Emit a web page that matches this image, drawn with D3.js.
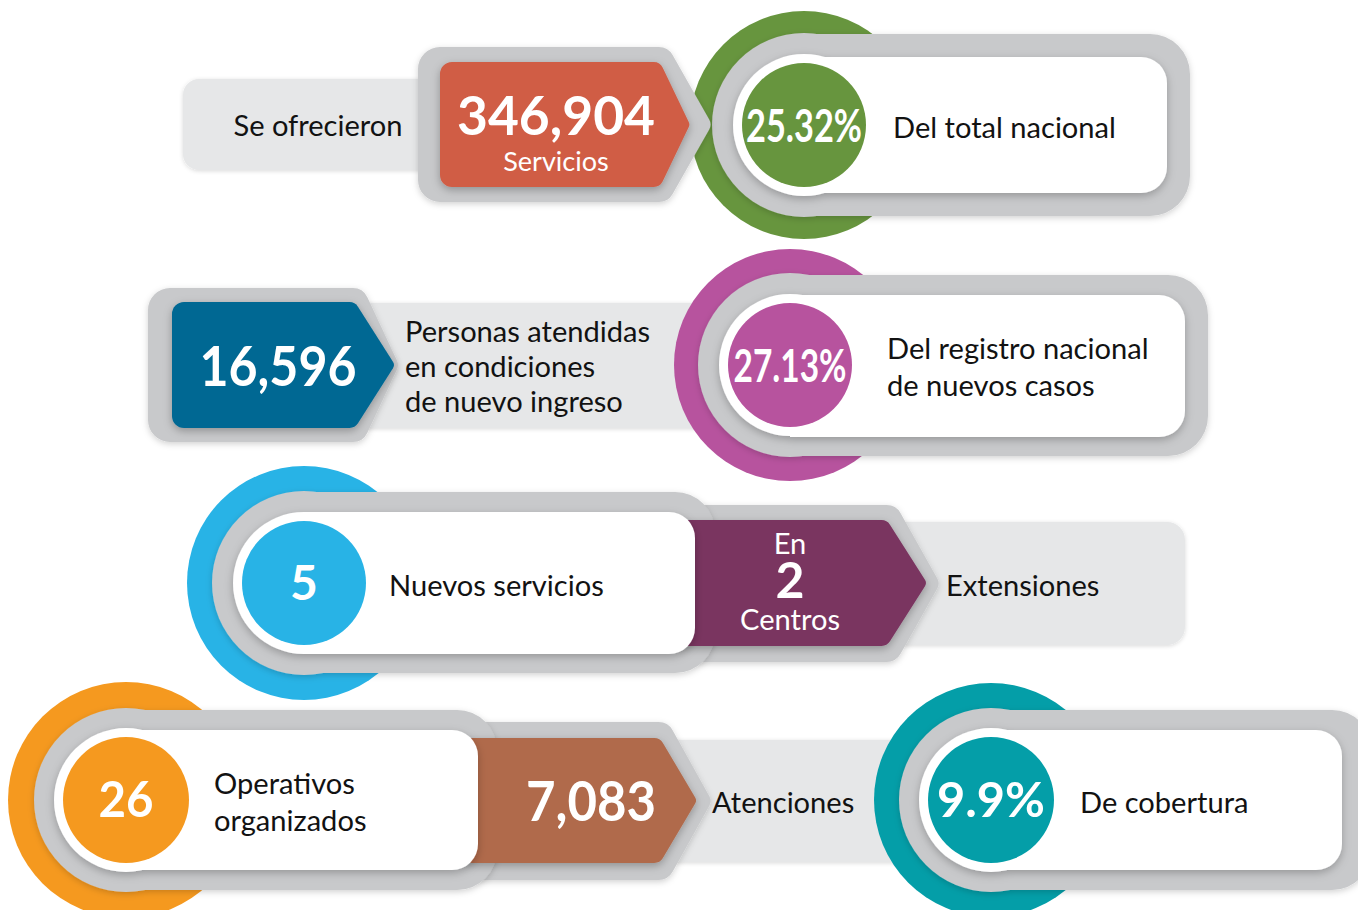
<!DOCTYPE html>
<html><head><meta charset="utf-8">
<script src="https://cdn.jsdelivr.net/npm/d3@7"></script>
<style>
html,body{margin:0;padding:0;background:#fff;}
svg{display:block;}
</style></head>
<body>
<svg id="chart" width="1358" height="910"></svg>
<script>
// ---------------- data ----------------
const pillLabels = [["Se ofrecieron"], ["Personas atendidas", "en condiciones", "de nuevo ingreso"], ["Extensiones"], ["Atenciones"]];
const badgeValues = ["346,904", "16,596", "2", "7,083"];
const badgeAbove = ["", "", "En", ""];
const badgeBelow = ["Servicios", "", "Centros", ""];
const ringValues = ["25.32%", "27.13%", "5", "26", "9.9%"];
const ringLabels = [["Del total nacional"], ["Del registro nacional", "de nuevos casos"], ["Nuevos servicios"], ["Operativos", "organizados"], ["De cobertura"]];

// ---------------- styles ----------------
const badgeColors = ["#d05d45", "#066893", "#7a3560", "#b06b4c"];
const ringColors = ["#67953e", "#b7539e", "#28b3e6", "#f5991f", "#049ea8"];
const frameColor = "#c8c9cb", pillColor = "#e6e7e8", textColor = "#121212";
const FONT = "Lato, 'Open Sans', sans-serif";

// ---------------- layout ----------------
const pillLayout = [
  {x0: 183, x1: 470, y0: 79, y1: 170, r: 16, tx: 318, anchor: "middle", ty: [136]},
  {x0: 350, x1: 720, y0: 303, y1: 428, r: 16, tx: 405, anchor: "start", ty: [342, 377, 412]},
  {x0: 870, x1: 1185, y0: 522, y1: 645, r: 18, tx: 946, anchor: "start", ty: [596]},
  {x0: 640, x1: 920, y0: 740, y1: 862, r: 16, tx: 712, anchor: "start", ty: [813]}
];
const badgeLayout = [
  {x0: 440, xd: 660, tip: 690, y0: 62, y1: 187, f: {x0: 418, xd: 668, tip: 712, y0: 47, y1: 202}, tx: 556, vy: 135, vs: 53, vw: 198, ay: 0, by: 171, ss: 0.93},
  {x0: 172, xd: 355, tip: 395, y0: 302, y1: 428, f: {x0: 148, xd: 363, tip: 399, y0: 288, y1: 442}, tx: 278, vy: 386, vs: 56, vw: 157, ay: 0, by: 0, ss: 1},
  {x0: 670, xd: 887, tip: 927, y0: 520, y1: 646, f: {x0: 660, xd: 896, tip: 940, y0: 505, y1: 662}, tx: 790, vy: 598, vs: 50, vw: 0, ay: 554, by: 630, ss: 1},
  {x0: 460, xd: 660, tip: 697, y0: 738, y1: 863, f: {x0: 445, xd: 668, tip: 712, y0: 722, y1: 880}, tx: 591, vy: 821, vs: 56, vw: 130, ay: 0, by: 0, ss: 1}
];
const ringLayout = [
  {cx: 804, cy: 125, R: 114, fr: 92, wr: 71, ir: 62, fx1: 1190, fy0: 34, fy1: 216, wx1: 1167, wy0: 57, wy1: 193, lx: 893, vs: 46, vw: 116},
  {cx: 790, cy: 365, R: 116, fr: 92, wr: 71, ir: 62, fx1: 1208, fy0: 275, fy1: 456, wx1: 1185, wy0: 295, wy1: 437, lx: 887, vs: 46, vw: 113},
  {cx: 304, cy: 583, R: 117, fr: 92, wr: 71, ir: 62, fx1: 715, fy0: 492, fy1: 673, wx1: 695, wy0: 512, wy1: 654, lx: 389, vs: 48, vw: 0},
  {cx: 126, cy: 800, R: 118, fr: 92, wr: 72, ir: 63, fx1: 497, fy0: 710, fy1: 890, wx1: 478, wy0: 730, wy1: 870, lx: 214, vs: 50, vw: 55},
  {cx: 991, cy: 800, R: 117, fr: 92, wr: 72, ir: 63, fx1: 1372, fy0: 710, fy1: 890, wx1: 1342, wy0: 730, wy1: 870, lx: 1080, vs: 48, vw: 108}
];

// ---------------- helpers ----------------
function roundedPoly(pts, radii) {
  const p = d3.path();
  const n = pts.length;
  const a = pts[n - 1], b = pts[0];
  p.moveTo((a[0] + b[0]) / 2, (a[1] + b[1]) / 2);
  for (let i = 0; i < n; i++) {
    const v = pts[i], nx = pts[(i + 1) % n];
    p.arcTo(v[0], v[1], nx[0], nx[1], radii[i]);
  }
  p.closePath();
  return p.toString();
}
function rectPath(x0, y0, x1, y1, radii) {
  return roundedPoly([[x0, y0], [x1, y0], [x1, y1], [x0, y1]], radii);
}
function arrowPath(o, rl, rs, rt) {
  const cy = (o.y0 + o.y1) / 2;
  return roundedPoly([[o.x0, o.y0], [o.xd, o.y0], [o.tip, cy], [o.xd, o.y1], [o.x0, o.y1]], [rl, rs, rt, rs, rl]);
}

const svg = d3.select("#chart");
const defs = svg.append("defs");
function shadow(id, dy, sd, op) {
  defs.append("filter").attr("id", id).attr("x", "-20%").attr("y", "-20%").attr("width", "140%").attr("height", "150%")
    .append("feDropShadow").attr("dx", 0).attr("dy", dy).attr("stdDeviation", sd)
    .attr("flood-color", "#000").attr("flood-opacity", op);
}
shadow("shWhite", 3, 4, 0.25);
shadow("shFrame", 2, 3, 0.18);
shadow("shBadge", 3, 4, 0.28);
shadow("shPill", 1, 2, 0.15);

// label size fitted so that the reference label width is matched
const probe = svg.append("text").attr("font-family", FONT).attr("font-size", 100).text(ringLabels[0][0]);
const probeW = probe.node().getComputedTextLength();
probe.remove();
const labelSize = 100 * 223 / probeW;

function fitBold(t, w) {
  if (!w) return;
  const cur = t.node().getComputedTextLength();
  if (Math.abs(cur - w) > 1) t.attr("textLength", w).attr("lengthAdjust", "spacingAndGlyphs");
}

// ---------------- drawing ----------------
function drawPill(i) {
  const L = pillLayout[i];
  const g = svg.append("g").attr("class", "pill");
  g.append("path").attr("d", rectPath(L.x0, L.y0, L.x1, L.y1, [L.r, L.r, L.r, L.r]))
    .attr("fill", pillColor).attr("filter", "url(#shPill)");
  const t = g.append("text").attr("font-family", FONT).attr("font-size", labelSize)
    .attr("fill", textColor).attr("text-anchor", L.anchor);
  pillLabels[i].forEach((s, k) => t.append("tspan").attr("x", L.tx).attr("y", L.ty[k]).text(s));
}

function drawBadgeFrame(i) {
  const L = badgeLayout[i];
  svg.append("path").attr("class", "badge-frame").attr("d", arrowPath(L.f, 22, 16, 10))
    .attr("fill", frameColor).attr("filter", "url(#shFrame)");
}

function drawBadge(i) {
  const L = badgeLayout[i];
  const g = svg.append("g").attr("class", "badge");
  g.append("path").attr("d", arrowPath(L, 12, 10, 6)).attr("fill", badgeColors[i]).attr("filter", "url(#shBadge)");
  const t = g.append("text").attr("text-anchor", "middle").attr("font-family", FONT).attr("fill", "#fff");
  if (badgeAbove[i]) t.append("tspan").attr("x", L.tx).attr("y", L.ay)
    .attr("font-size", labelSize * L.ss).text(badgeAbove[i]);
  const v = t.append("tspan").attr("x", L.tx).attr("y", L.vy)
    .attr("font-weight", 700).attr("font-size", L.vs).text(badgeValues[i]);
  fitBold(v, L.vw);
  if (badgeBelow[i]) t.append("tspan").attr("x", L.tx).attr("y", L.by)
    .attr("font-size", labelSize * L.ss).text(badgeBelow[i]);
}

function drawRingBack(i) {
  const L = ringLayout[i];
  const g = svg.append("g").attr("class", "ring-back");
  g.append("circle").attr("cx", L.cx).attr("cy", L.cy).attr("r", L.R).attr("fill", ringColors[i]);
  const fg = g.append("g").attr("filter", "url(#shFrame)").attr("fill", frameColor);
  fg.append("circle").attr("cx", L.cx).attr("cy", L.cy).attr("r", L.fr);
  fg.append("path").attr("d", rectPath(L.cx, L.fy0, L.fx1, L.fy1, [0, 40, 40, 0]));
}

function drawRingFront(i) {
  const L = ringLayout[i];
  const g = svg.append("g").attr("class", "ring-front");
  const wg = g.append("g").attr("filter", "url(#shWhite)").attr("fill", "#fff");
  wg.append("circle").attr("cx", L.cx).attr("cy", L.cy).attr("r", L.wr);
  wg.append("path").attr("d", rectPath(L.cx, L.wy0, L.wx1, L.wy1, [0, 26, 26, 0]));
  g.append("circle").attr("cx", L.cx).attr("cy", L.cy).attr("r", L.ir).attr("fill", ringColors[i]);
  const v = g.append("text").attr("x", L.cx).attr("y", L.cy + 17).attr("text-anchor", "middle")
    .attr("font-family", FONT).attr("font-weight", 700).attr("font-size", L.vs).attr("fill", "#fff")
    .text(ringValues[i]);
  fitBold(v, L.vw);
  const lines = ringLabels[i];
  const t = g.append("text").attr("font-family", FONT).attr("font-size", labelSize).attr("fill", textColor);
  const base = L.cy + 12.5 - (lines.length - 1) * 18.5;
  lines.forEach((s, k) => t.append("tspan").attr("x", L.lx).attr("y", base + k * 37).text(s));
}

// row 1
drawRingBack(0); drawRingFront(0); drawPill(0); drawBadgeFrame(0); drawBadge(0);
// row 2
drawPill(1); drawBadgeFrame(1); drawBadge(1); drawRingBack(1); drawRingFront(1);
// row 3
drawPill(2); drawBadgeFrame(2); drawRingBack(2); drawBadge(2); drawRingFront(2);
// row 4
drawPill(3); drawBadgeFrame(3); drawRingBack(3); drawBadge(3); drawRingFront(3);
drawRingBack(4); drawRingFront(4);
</script>
</body></html>
